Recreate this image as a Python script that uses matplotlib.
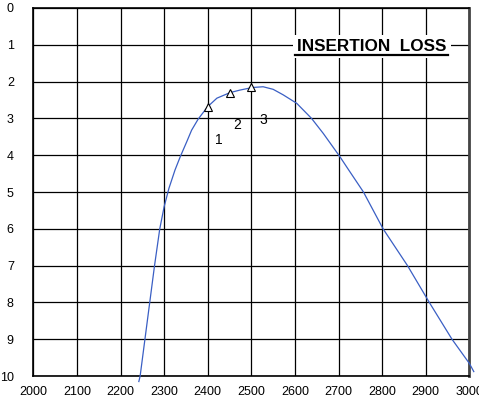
import matplotlib.pyplot as plt
from matplotlib.lines import Line2D

plt.rcParams['font.family'] = ['Liberation Sans', 'DejaVu Sans']

freq = [2242, 2245, 2256, 2267, 2278, 2290, 2300, 2311, 2325, 2337,
        2352, 2363, 2378, 2394, 2400, 2421, 2451, 2474, 2503, 2527, 2550,
        2573, 2604, 2638, 2665, 2703, 2722, 2757, 2802, 2858, 2908, 2960,
        3000, 3010]
loss = [10.15, 10.0, 9.0, 8.0, 7.0, 6.0, 5.4, 4.9, 4.4, 4.04,
        3.63, 3.32, 3.02, 2.77, 2.68, 2.45, 2.30, 2.23, 2.16, 2.14, 2.21,
        2.36, 2.59, 3.0, 3.41, 4.04, 4.38, 5.0, 6.0, 7.0, 8.0, 9.0,
        9.66, 9.88]

mark_freq = [2400, 2450, 2500]
mark_loss = [2.68, 2.30, 2.16]
mark_labels = ["1", "2", "3"]
label_pos = [(2426, 3.6), (2467, 3.18), (2527, 3.04)]

xticks = list(range(2000, 3001, 100))
yticks = list(range(0, 11))

fig = plt.figure(figsize=(4.79, 4.08), dpi=100)
ax = fig.add_axes([0.0695, 0.0784, 0.9105, 0.9020])

ax.set_xlim(2000, 3000)
ax.set_ylim(10, 0)
ax.set_xticks(xticks)
ax.set_yticks(yticks)
ax.tick_params(length=0, labelsize=9, pad=7)
ax.tick_params(axis='y', pad=14)
ax.grid(True, color='black', linewidth=0.9)
ax.set_axisbelow(True)

for s in ["left", "bottom", "top"]:
    ax.spines[s].set_linewidth(1.2)
ax.spines["right"].set_linewidth(2)
ax.spines["right"].set_color("#444444")

ax.plot(freq, loss, color='#3a5fc4', linewidth=0.9, clip_on=False, zorder=3)

ax.plot(mark_freq, mark_loss, linestyle='none', marker='^', markersize=6,
        markerfacecolor='white', markeredgecolor='black', markeredgewidth=0.8,
        zorder=4)

for lab, (x, y) in zip(mark_labels, label_pos):
    ax.text(x, y, lab, fontsize=10, ha='center', va='center', zorder=5)

# title box sits on the grid, with underline
ax.text(0.776, 0.895, "INSERTION  LOSS", transform=ax.transAxes,
        fontsize=12.3, fontweight='bold', ha='center', va='center',
        bbox=dict(facecolor='white', edgecolor='none', pad=3), zorder=5)
ax.add_line(Line2D([0.600, 0.950], [0.872, 0.872], transform=ax.transAxes,
                   color='black', linewidth=1.6, zorder=6))

fig.savefig("out.png", dpi=100)
